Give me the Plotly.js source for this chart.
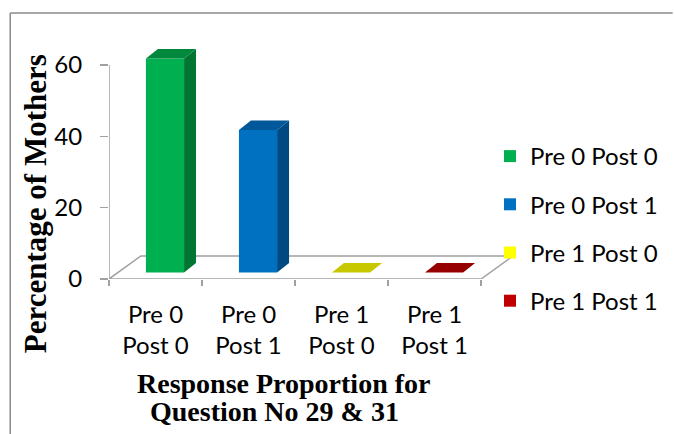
<!DOCTYPE html>
<html>
<head>
<meta charset="utf-8">
<script src="https://cdn.plot.ly/plotly-3.0.1.min.js"></script>
<style>html,body{margin:0;padding:0;background:#fff;overflow:hidden;}#chart{width:674px;height:434px;}</style>
</head>
<body>
<div id="chart"></div>
<script>
// ---- data ----
const categories = ['Pre 0 Post 0', 'Pre 0 Post 1', 'Pre 1 Post 0', 'Pre 1 Post 1'];
const values = [60, 40, 0, 0];
const yTicks = [0, 20, 40, 60];
const yTitle = 'Percentage of Mothers';
const xTitleLines = ['Response Proportion for', 'Question No 29 & 31'];

// ---- styles ----
const frontColors = ['#00b050', '#0070c0', '#ffff00', '#c00000'];
const topColors   = ['#00893c', '#00579a', '#c8c800', '#960000'];
const sideColors  = ['#007632', '#004a84', '#a8a800', '#7a0000'];
const axisColor = '#a0a0a0';

// ---- layout geometry (px) ----
const W = 674, H = 434;
const L = 109, R = 520, T = 40, B = 279;
const pxPerCat = 93.25;
const pxPerUnit = 214 / 60;
const xr = [-0.5, -0.5 + (R - L) / pxPerCat];
const yr = [0, (B - T) / pxPerUnit];
const ux = px => px / pxPerCat;      // px -> x units
const uy = px => px / pxPerUnit;     // px -> y units
const paperX = px => (px - L) / (R - L);
const paperY = py => (B - py) / (B - T);

// 3D pseudo-projection
const floorDX = ux(32), floorDY = uy(23);
const barOffX = ux(9.5), barOffY = uy(6.4);
const barDX = ux(12), barDY = uy(9.5);
const barW = 0.41;

const n = categories.length;
const traces = [];

// side faces
categories.forEach((c, i) => {
  const v = values[i];
  if (v <= 0) return;
  const xc = i + barOffX, xr1 = xc + barW / 2;
  traces.push({
    type: 'scatter', mode: 'lines', fill: 'toself', fillcolor: sideColors[i],
    line: {width: 0, color: sideColors[i]}, hoverinfo: 'skip', showlegend: false,
    x: [xr1, xr1, xr1 + barDX, xr1 + barDX, xr1],
    y: [barOffY, barOffY + v, barOffY + v + barDY, barOffY + barDY, barOffY]
  });
});
// top faces
categories.forEach((c, i) => {
  const v = values[i];
  const xc = i + barOffX, xl = xc - barW / 2, xrr = xc + barW / 2;
  const yt = barOffY + v;
  traces.push({
    type: 'scatter', mode: 'lines', fill: 'toself', fillcolor: topColors[i],
    line: {width: 0, color: topColors[i]}, hoverinfo: 'skip', showlegend: false,
    x: [xl, xrr, xrr + barDX, xl + barDX, xl],
    y: [yt, yt, yt + barDY, yt + barDY, yt]
  });
});
// front faces (the series, shown in the legend)
categories.forEach((c, i) => {
  traces.push({
    type: 'bar', name: c, legendgroup: 'g' + i,
    x: [i + barOffX], y: [values[i]], base: [barOffY], width: barW,
    marker: {color: frontColors[i], line: {width: 0}},
    hoverinfo: 'name+y'
  });
});

const x0 = -0.5, x1 = n - 0.5;
const shapes = [
  // floor
  {type: 'path', xref: 'x', yref: 'y', layer: 'below',
   path: `M${x0},0 L${x1},0 L${x1 + floorDX},${floorDY} L${x0 + floorDX},${floorDY} Z`,
   line: {color: axisColor, width: 1.5}},
  // value axis line
  {type: 'line', xref: 'x', yref: 'y', layer: 'below',
   x0: x0, x1: x0, y0: 0, y1: yTicks[yTicks.length - 1],
   line: {color: axisColor, width: 1.5}},
  // chart border (top and left edges)
  {type: 'line', xref: 'paper', yref: 'paper',
   x0: paperX(10), x1: paperX(W), y0: paperY(13), y1: paperY(13),
   line: {color: '#8a8a8a', width: 1.5}},
  {type: 'line', xref: 'paper', yref: 'paper',
   x0: paperX(10), x1: paperX(10), y0: paperY(13), y1: paperY(H),
   line: {color: '#8a8a8a', width: 1.5}}
];

const titleFont = {family: 'Liberation Serif', color: '#000', weight: 'bold'};
const annotations = [
  {text: yTitle, xref: 'paper', yref: 'paper', x: paperX(35), y: paperY(204),
   textangle: -90, showarrow: false, xanchor: 'center', yanchor: 'middle',
   font: Object.assign({size: 31}, titleFont)},
  {text: xTitleLines[0], xref: 'paper', yref: 'paper', x: paperX(284), y: paperY(383),
   showarrow: false, xanchor: 'center', yanchor: 'middle',
   font: Object.assign({size: 28}, titleFont)},
  {text: xTitleLines[1], xref: 'paper', yref: 'paper', x: paperX(275), y: paperY(412),
   showarrow: false, xanchor: 'center', yanchor: 'middle',
   font: Object.assign({size: 28}, titleFont)}
];

const labelFont = {family: 'Lato', size: 24, color: '#000'};
const layout = {
  width: W, height: H,
  margin: {l: L, r: W - R, t: T, b: H - B, pad: 0},
  paper_bgcolor: '#fff', plot_bgcolor: 'rgba(0,0,0,0)',
  font: labelFont,
  showlegend: true,
  barmode: 'overlay',
  xaxis: {
    range: xr, showgrid: false, zeroline: false, showline: false, fixedrange: true,
    tickmode: 'array', tickvals: categories.map((c, i) => i),
    ticktext: categories.map(c => c.replace(' Post', '<br>Post')),
    ticks: '', ticklabelstandoff: 19,
    tickfont: labelFont,
    minor: {tickmode: 'array', tickvals: categories.map((c, i) => i - 0.5).concat([n - 0.5]),
            ticks: 'outside', ticklen: 6, tickwidth: 1.5, tickcolor: axisColor, showgrid: false}
  },
  yaxis: {
    range: yr, showgrid: false, zeroline: false, showline: false, fixedrange: true,
    tickmode: 'array', tickvals: yTicks, ticktext: yTicks.map(String),
    ticks: 'outside', ticklen: 8, tickwidth: 1.5, tickcolor: axisColor,
    ticklabelstandoff: 13,
    tickfont: labelFont
  },
  legend: {
    x: paperX(490), xanchor: 'left', y: paperY(134), yanchor: 'top',
    font: labelFont,
    tracegroupgap: 14, bgcolor: 'rgba(0,0,0,0)', itemwidth: 30
  },
  shapes: shapes,
  annotations: annotations
};

Plotly.newPlot('chart', traces, layout, {displayModeBar: false, staticPlot: true});
</script>
</body>
</html>
